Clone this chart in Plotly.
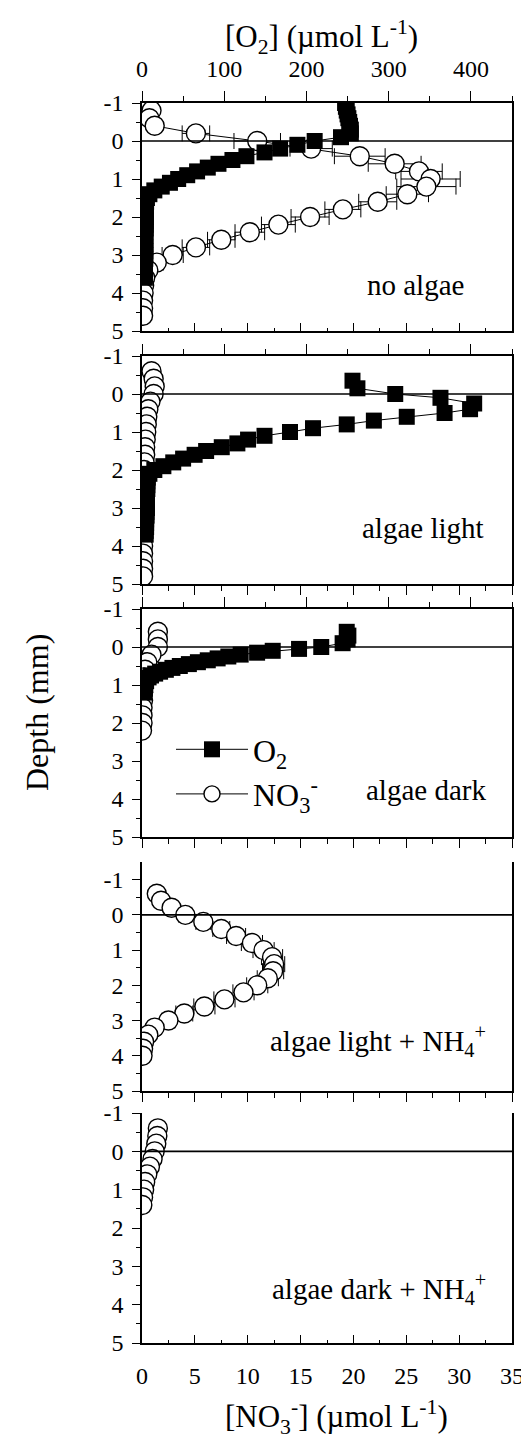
import plotly.graph_objects as go

# ---------------- data ----------------
# Panel 1: no algae
p1_o2_depth = [-1.0, -0.9, -0.8, -0.7, -0.6, -0.5, -0.4, -0.3, -0.2, -0.1, 0.0, 0.1, 0.2, 0.3, 0.4,
               0.5, 0.6, 0.7, 0.8, 0.9, 1.0, 1.1, 1.2, 1.3, 1.4, 1.5, 1.6, 1.7, 1.8, 1.9, 2.0,
               2.1, 2.2, 2.3, 2.4, 2.5, 2.6, 2.7, 2.8, 2.9, 3.0, 3.1, 3.2, 3.3, 3.4, 3.5, 3.6]
p1_o2 = [247, 248, 249, 250, 251, 252, 253, 254, 254, 242, 210, 189, 168, 149, 127,
         110, 93, 80, 67, 55, 44, 34, 24, 15, 9, 6, 5, 4.5, 4.5, 4.5, 4.5,
         4.5, 4.5, 4.5, 4, 4, 4, 4, 4, 4, 4, 4, 3.5, 3.5, 3.5, 3.5, 3.5]
p1_no3_depth = [-0.8, -0.6, -0.4, -0.2, 0.0, 0.2, 0.4, 0.6, 0.8, 1.0, 1.2, 1.4, 1.6, 1.8,
                2.0, 2.2, 2.4, 2.6, 2.8, 3.0, 3.2, 3.4, 3.6, 3.8, 4.0, 4.2, 4.4, 4.6]
p1_no3 = [0.9, 0.7, 1.2, 5.1, 10.9, 16.0, 20.6, 23.9, 26.2, 27.3, 26.9, 25.1, 22.3, 19.0,
          15.9, 12.9, 10.2, 7.5, 5.1, 2.9, 1.4, 0.6, 0.3, 0.2, 0.15, 0.1, 0.1, 0.1]
p1_no3_err = [0.3, 0.3, 0.3, 1.3, 2.2, 2.0, 2.4, 2.5, 2.2, 2.8, 2.8, 2.0, 1.8, 1.7,
              1.8, 1.6, 1.4, 1.3, 1.3, 1.0, 0.6, 0.4, 0.3, 0.2, 0.1, 0.1, 0.1, 0.1]

# Panel 2: algae light
p2_o2_depth = [-0.35, -0.15, 0.0, 0.1, 0.25, 0.4, 0.5, 0.6, 0.7, 0.8, 0.9, 1.0, 1.1, 1.2, 1.3,
               1.4, 1.5, 1.6, 1.7, 1.8, 1.9, 2.0, 2.1, 2.2, 2.3, 2.4, 2.5, 2.6, 2.7, 2.8, 2.9,
               3.0, 3.1, 3.2, 3.3, 3.4, 3.5, 3.6, 3.7]
p2_o2 = [256, 262, 308, 363, 404, 399, 368, 322, 282, 249, 208, 180, 149, 129, 116,
         97, 78, 64, 50, 38, 26, 15, 9, 7, 6.5, 6.5, 6.5, 6, 6, 6, 6,
         6, 5.5, 5.5, 5, 5, 5, 4.5, 4.5]
p2_no3_depth = [-0.6, -0.4, -0.2, 0.0, 0.2, 0.4, 0.6, 0.8, 1.0, 1.2, 1.4, 1.6, 1.8, 2.0,
                2.2, 2.4, 2.6, 2.8, 3.0, 3.2, 3.4, 3.6, 3.8, 4.0, 4.2, 4.4, 4.6, 4.8]
p2_no3 = [0.9, 1.1, 1.2, 1.1, 0.8, 0.6, 0.5, 0.45, 0.4, 0.35, 0.3, 0.3, 0.25, 0.2,
          0.2, 0.2, 0.15, 0.15, 0.1, 0.1, 0.1, 0.1, 0.1, 0.1, 0.1, 0.1, 0.1, 0.1]
p2_no3_err = [0.4, 0.3, 0.3, 0.3, 0.2, 0.2, 0.2, 0.2, 0.1, 0.1, 0.1, 0.1, 0.1, 0.1,
              0.1, 0.1, 0.1, 0.1, 0.1, 0.1, 0.1, 0.1, 0.1, 0.1, 0.1, 0.1, 0.1, 0.1]

# Panel 3: algae dark
p3_o2_depth = [-0.4, -0.3, -0.2, -0.1, 0.0, 0.05, 0.1, 0.15, 0.2, 0.25, 0.3, 0.35, 0.4, 0.45,
               0.5, 0.55, 0.6, 0.65, 0.7, 0.75, 0.8, 0.9, 1.0, 1.1, 1.2]
p3_o2 = [249, 251, 250, 244, 218, 191, 159, 140, 120, 105, 92, 80, 68, 57,
         46, 37, 29, 22, 16, 11, 8, 5, 4, 3.5, 3]
p3_no3_depth = [-0.4, -0.2, 0.0, 0.2, 0.4, 0.6, 0.8, 1.0, 1.2, 1.4, 1.6, 1.8, 2.0, 2.2]
p3_no3 = [1.5, 1.5, 1.5, 0.9, 0.5, 0.3, 0.2, 0.15, 0.1, 0.1, 0.05, 0.05, 0.05, 0.0]
p3_no3_err = [0.3, 0.3, 0.3, 0.2, 0.2, 0.1, 0.1, 0.1, 0.1, 0.1, 0.1, 0.1, 0.1, 0.1]

# Panel 4: algae light + NH4+
p4_no3_depth = [-0.6, -0.4, -0.2, 0.0, 0.2, 0.4, 0.6, 0.8, 1.0, 1.2, 1.4, 1.6, 1.8, 2.0,
                2.2, 2.4, 2.6, 2.8, 3.0, 3.2, 3.4, 3.6, 3.8, 4.0]
p4_no3 = [1.4, 1.8, 2.8, 4.1, 5.8, 7.5, 8.9, 10.4, 11.5, 12.3, 12.5, 12.4, 11.9, 10.9,
          9.6, 7.8, 5.9, 4.0, 2.5, 1.2, 0.6, 0.2, 0.1, 0.05]
p4_no3_err = [0.4, 0.4, 0.5, 0.6, 0.7, 0.8, 0.9, 1.0, 1.0, 1.0, 1.0, 1.0, 1.0, 1.0,
              1.0, 1.0, 1.0, 0.8, 0.6, 0.5, 0.3, 0.2, 0.1, 0.1]

# Panel 5: algae dark + NH4+
p5_no3_depth = [-0.6, -0.4, -0.2, 0.0, 0.2, 0.4, 0.6, 0.8, 1.0, 1.2, 1.4]
p5_no3 = [1.5, 1.45, 1.35, 1.2, 1.0, 0.75, 0.5, 0.3, 0.2, 0.1, 0.03]
p5_no3_err = [0.3, 0.3, 0.3, 0.3, 0.2, 0.2, 0.2, 0.1, 0.1, 0.1, 0.1]

panel_labels = ["no algae", "algae light", "algae dark",
                "algae light + NH<sub>4</sub><sup>+</sup>",
                "algae dark + NH<sub>4</sub><sup>+</sup>"]
o2_tickvals = [0, 100, 200, 300, 400]
no3_tickvals = [0, 5, 10, 15, 20, 25, 30, 35]
depth_tickvals = [-1, 0, 1, 2, 3, 4, 5]
depth_ticktext = ["-1", "0", "1", "2", "3", "4", "5"]
depth_minorvals = [-0.5, 0.5, 1.5, 2.5, 3.5, 4.5]

o2_series = [(p1_o2_depth, p1_o2), (p2_o2_depth, p2_o2), (p3_o2_depth, p3_o2), None, None]
no3_series = [(p1_no3_depth, p1_no3, p1_no3_err), (p2_no3_depth, p2_no3, p2_no3_err),
              (p3_no3_depth, p3_no3, p3_no3_err), (p4_no3_depth, p4_no3, p4_no3_err),
              (p5_no3_depth, p5_no3, p5_no3_err)]

# ---------------- layout geometry ----------------
W, H = 529, 1437
ML, MR, MT, MB = 134, 25, 95, 102
PH = H - MT - MB
PW = W - ML - MR
panel_px = [(95, 323), (348, 576), (601, 829), (854, 1083), (1105, 1335)]
yranges = [[5, -1], [5, -1], [5, -1], [5, -1.5], [5, -1]]
label_px = [(458, 277), (478, 520), (480, 782), (480, 1033), (480, 1281)]

def py(p):
    return (H - MB - p) / PH

def px(p):
    return (p - ML) / PW

FONT = "Liberation Serif"
BLACK = "black"
TICKFONT = dict(family=FONT, size=24, color=BLACK)

fig = go.Figure()
layout = dict(
    width=W, height=H,
    margin=dict(l=ML, r=MR, t=MT, b=MB, pad=0),
    paper_bgcolor="white", plot_bgcolor="white",
    font=dict(family=FONT, size=24, color=BLACK),
    showlegend=True,
    shapes=[], annotations=[],
)

for i in range(5):
    n = i + 1
    xb = 2 * i + 1
    xt = 2 * i + 2
    xb_name = "x" if xb == 1 else f"x{xb}"
    xt_name = f"x{xt}"
    y_name = "y" if n == 1 else f"y{n}"
    y_key = "yaxis" if n == 1 else f"yaxis{n}"
    xb_key = "xaxis" if xb == 1 else f"xaxis{xb}"
    xt_key = f"xaxis{xt}"
    top_px, bot_px = panel_px[i]
    dom = [py(bot_px), py(top_px)]

    bottom_inside = i in (0, 4)
    layout[xb_key] = dict(
        domain=[0, 1], range=[0, 35], anchor=y_name, side="bottom",
        showline=True, linecolor=BLACK, linewidth=1.6, mirror=False,
        showgrid=False, zeroline=False, automargin=False,
        tickmode="array", tickvals=no3_tickvals,
        ticks="inside" if bottom_inside else "outside",
        ticklen=8 if bottom_inside else 9, tickwidth=1.3, tickcolor=BLACK,
        minor=dict(ticks="inside" if bottom_inside else "outside", ticklen=3 if bottom_inside else 5,
                   tickmode="linear", tick0=0, dtick=2.5, tickwidth=1.3, tickcolor=BLACK,
                   showgrid=False),
        showticklabels=(i == 4),
        tickfont=TICKFONT,
        ticklabelstandoff=10,
    )
    layout[xt_key] = dict(
        overlaying=xb_name, range=[0, 450], anchor=y_name, side="top",
        showline=True, linecolor=BLACK, linewidth=1.6,
        showgrid=False, zeroline=False, automargin=False,
        tickmode="array", tickvals=o2_tickvals,
        ticks="outside", ticklen=10, tickwidth=1.3, tickcolor=BLACK,
        minor=dict(ticks="outside", ticklen=5, tickmode="linear", tick0=0, dtick=50,
                   tickwidth=1.3, tickcolor=BLACK, showgrid=False),
        showticklabels=(i == 0),
        tickfont=TICKFONT,
        ticklabelstandoff=5,
    )
    layout[y_key] = dict(
        domain=dom, range=yranges[i], anchor=xb_name,
        showline=True, linecolor=BLACK, linewidth=1.6, mirror=True,
        showgrid=False, zeroline=False, automargin=False,
        tickmode="array", tickvals=depth_tickvals, ticktext=depth_ticktext,
        ticks="outside", ticklen=8, tickwidth=1.3, tickcolor=BLACK,
        minor=dict(ticks="outside", ticklen=4, tickmode="array", tickvals=depth_minorvals,
                   tickwidth=1.3, tickcolor=BLACK, showgrid=False),
        tickfont=TICKFONT,
        ticklabelstandoff=4,
    )

    # depth-zero reference line
    layout["shapes"].append(dict(
        type="line", xref=f"{xb_name} domain", x0=0, x1=1, yref=y_name, y0=0, y1=0,
        line=dict(color=BLACK, width=1.6), layer="above"))

    # panel label
    lx, ly = label_px[i]
    layout["annotations"].append(dict(
        text=panel_labels[i], xref="paper", yref="paper", x=px(lx), y=py(ly),
        xanchor="right", yanchor="middle", showarrow=False,
        font=dict(size=29, family=FONT, color=BLACK)))

    # traces
    if no3_series[i] is not None:
        d, v, e = no3_series[i]
        fig.add_trace(go.Scatter(
            x=v, y=d, xaxis=xb_name, yaxis=y_name, mode="lines+markers",
            name="NO<sub>3</sub><sup>-</sup>", legendrank=2, showlegend=(i == 0),
            line=dict(color=BLACK, width=1),
            marker=dict(symbol="circle", size=19, color="white",
                        line=dict(color=BLACK, width=1.4)),
            error_x=dict(type="data", array=e, visible=True, color=BLACK,
                         thickness=1, width=8),
        ))
    if o2_series[i] is not None:
        d, v = o2_series[i]
        fig.add_trace(go.Scatter(
            x=v, y=d, xaxis=xt_name, yaxis=y_name, mode="lines+markers",
            name="O<sub>2</sub>", legendrank=1, showlegend=(i == 0),
            line=dict(color=BLACK, width=1),
            marker=dict(symbol="square", size=16, color=BLACK,
                        line=dict(color=BLACK, width=0)),
        ))

# axis titles
layout["annotations"].append(dict(
    text="[O<sub>2</sub>] (µmol L<sup>-1</sup>)", xref="paper", yref="paper",
    x=px(313), y=py(29), xanchor="center", yanchor="middle", showarrow=False,
    font=dict(size=31, family=FONT, color=BLACK)))
layout["annotations"].append(dict(
    text="[NO<sub>3</sub><sup>-</sup>] (µmol L<sup>-1</sup>)", xref="paper", yref="paper",
    x=px(328), y=py(1409), xanchor="center", yanchor="middle", showarrow=False,
    font=dict(size=31, family=FONT, color=BLACK)))
layout["annotations"].append(dict(
    text="Depth (mm)", xref="paper", yref="paper",
    x=px(29), y=py(705), xanchor="center", yanchor="middle", showarrow=False,
    textangle=-90, font=dict(size=32, family=FONT, color=BLACK)))

layout["legend"] = dict(
    x=px(163), y=py(714), xanchor="left", yanchor="top",
    bgcolor="rgba(0,0,0,0)", borderwidth=0,
    font=dict(size=32, family=FONT, color=BLACK),
    itemsizing="trace", itemwidth=72, tracegroupgap=0,
    traceorder="normal",
)

fig.update_layout(**layout)
fig.write_html("out.html")
